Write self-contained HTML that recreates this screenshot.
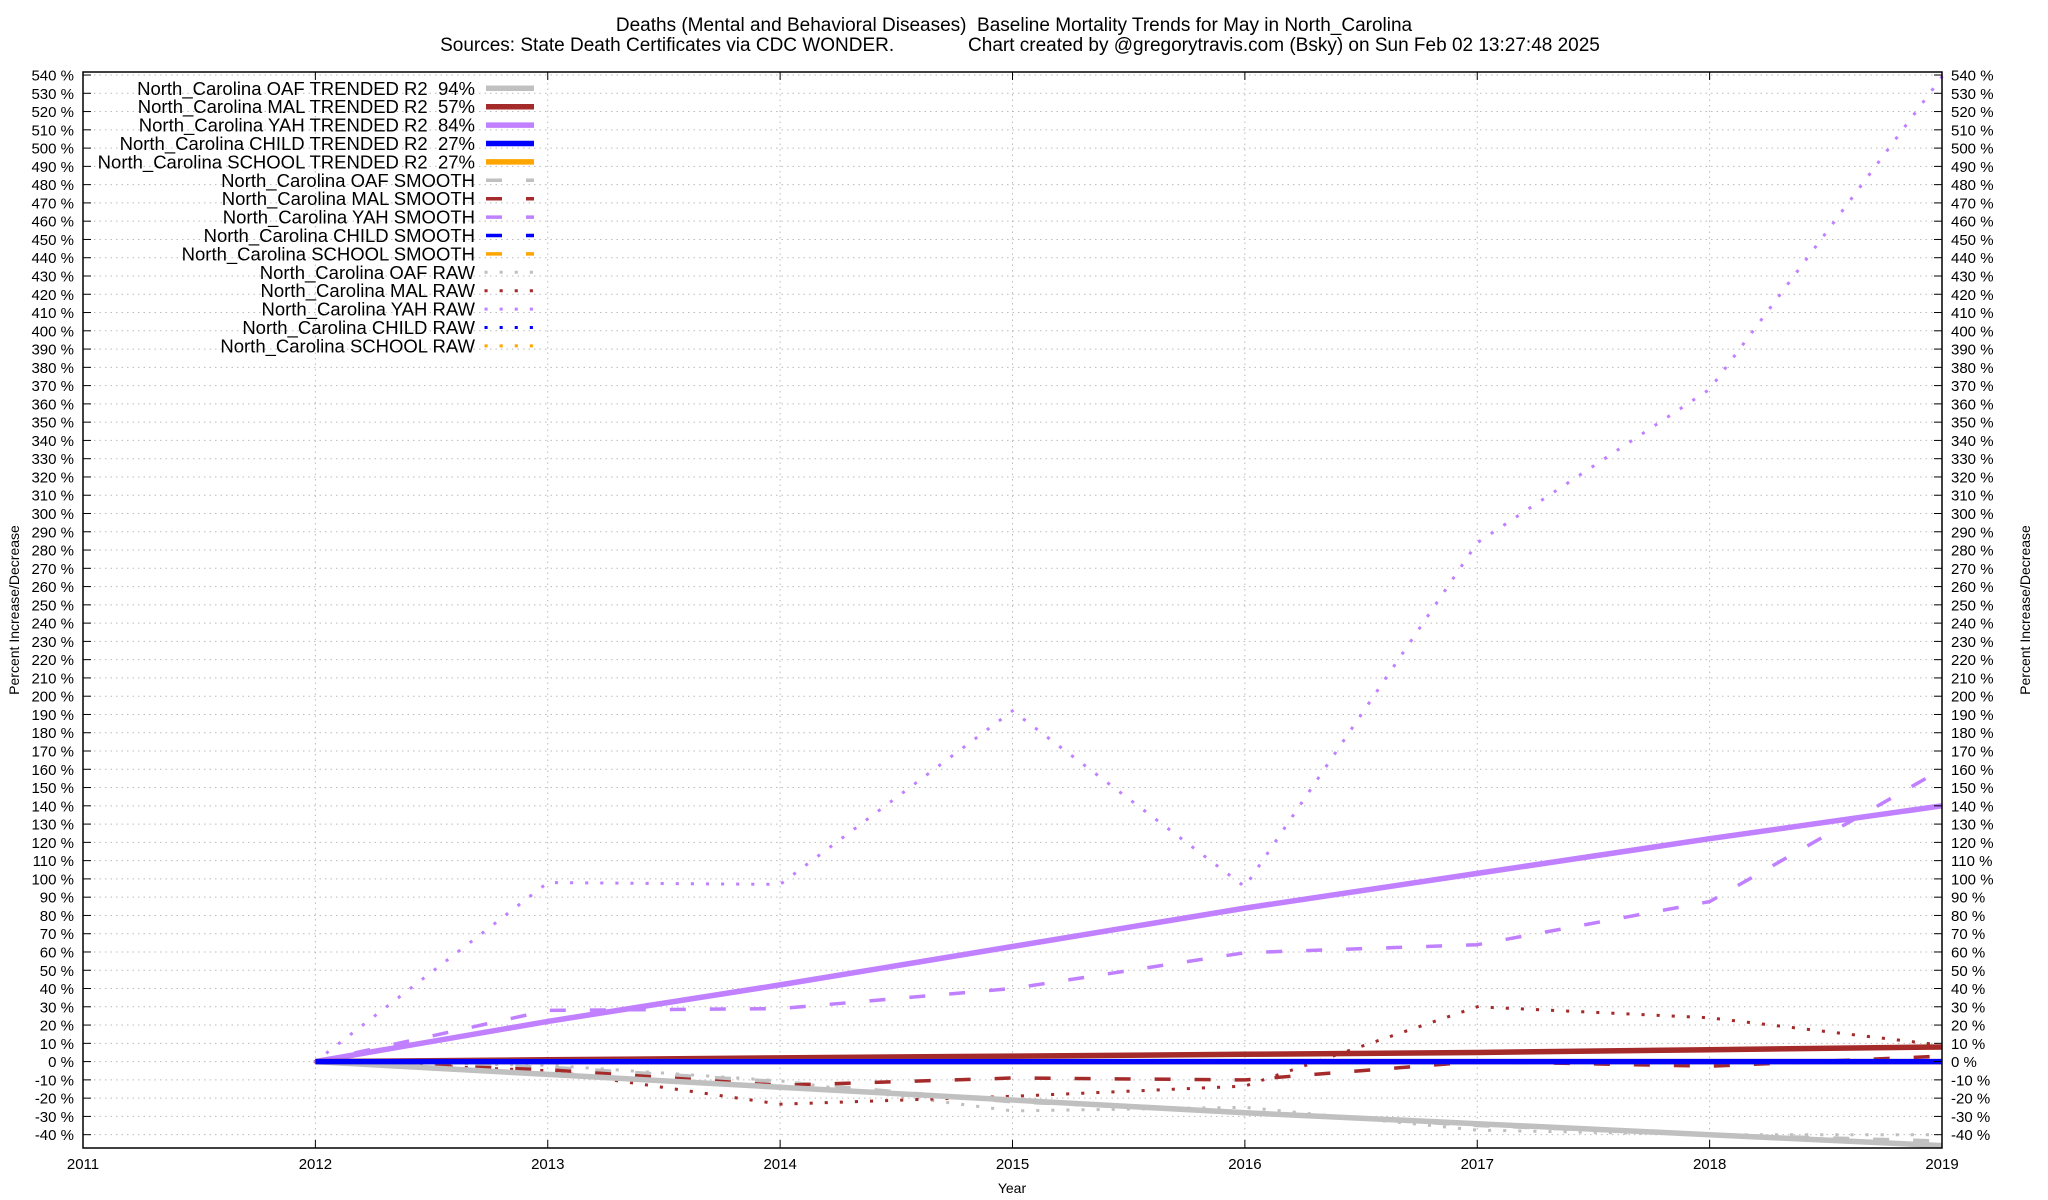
<!DOCTYPE html>
<html><head><meta charset="utf-8">
<style>
html,body{margin:0;padding:0;background:#fff;}
svg{display:block;font-family:"Liberation Sans",Arial,sans-serif;}
text{white-space:pre;}
</style></head>
<body>
<svg id="chart" width="2048" height="1200" viewBox="0 0 2048 1200" xmlns="http://www.w3.org/2000/svg">
  <text x="1014" y="31" font-size="19" text-anchor="middle">Deaths (Mental and Behavioral Diseases)  Baseline Mortality Trends for May in North_Carolina</text>
  <text x="1020" y="51" font-size="19" text-anchor="middle">Sources: State Death Certificates via CDC WONDER.              Chart created by @gregorytravis.com (Bsky) on Sun Feb 02 13:27:48 2025</text>
  <g id="grid"></g>
  <g id="series"></g>
  <rect x="83" y="72" width="1859" height="1076" fill="none" stroke="#000" stroke-width="1.5"/>
  <g id="axes"></g>
  <g id="legend"></g>
  <text transform="translate(19,610) rotate(-90)" font-size="14" text-anchor="middle">Percent Increase/Decrease</text>
  <text transform="translate(2030,610) rotate(-90)" font-size="14" text-anchor="middle">Percent Increase/Decrease</text>
  <text x="1012" y="1193" font-size="14" text-anchor="middle">Year</text>
</svg>
<script>
const years = [2012, 2013, 2014, 2015, 2016, 2017, 2018, 2019];
const xTicks = [2011, 2012, 2013, 2014, 2015, 2016, 2017, 2018, 2019];
const yTicks = [-40,-30,-20,-10,0,10,20,30,40,50,60,70,80,90,100,110,120,130,140,150,160,170,180,190,200,210,220,230,240,250,260,270,280,290,300,310,320,330,340,350,360,370,380,390,400,410,420,430,440,450,460,470,480,490,500,510,520,530,540];
const trendYears = [2012, 2013, 2014, 2015, 2016, 2017, 2018, 2019];
const oafTrend = [0, -7, -14, -21, -28, -34, -40, -46];
const malTrend = [0, 1, 2, 3, 4, 5, 6.5, 8];
const yahTrend = [0, 22, 42, 63, 84, 103, 122, 140];
const childTrend = [0, 0, 0, 0, 0, 0, 0, 0];
const schoolTrend = [0, 0, 0, 0, 0, 0, 0, 0];
const oafSmooth = [0, -3, -11, -22, -27.5, -35, -40, -43.5];
const malSmooth = [0, -4.5, -13, -9, -10, 0, -2.5, 3];
const yahSmooth = [0, 28, 29, 40, 59.6, 64, 87.6, 160];
const childSmooth = [0, 0, 0, 0, 0, 0, 0, 0];
const schoolSmooth = [0, 0, 0, 0, 0, 0, 0, 0];
const oafRaw = [0, -2, -10.5, -27, -25, -37.5, -40, -40];
const malRaw = [0, -5, -23.3, -19, -13.4, 30, 24, 9];
const yahRaw = [0, 98, 97, 192, 95.7, 284, 368, 539];
const childRaw = [0, 0, 0, 0, 0, 0, 0, 0];
const schoolRaw = [0, 0, 0, 0, 0, 0, 0, 0];

const NS = "http://www.w3.org/2000/svg";
const X0 = 83, X1 = 1942, Y0 = 1061.6, PPV = 1.827;
function xs(t){ return X0 + (t - 2011) * (X1 - X0) / 8; }
function ys(v){ return Y0 - v * PPV; }
function mk(tag, attrs, parent){
  const e = document.createElementNS(NS, tag);
  for (const k in attrs) e.setAttribute(k, attrs[k]);
  parent.appendChild(e);
  return e;
}
const grid = document.getElementById('grid');
const axes = document.getElementById('axes');
const series = document.getElementById('series');
const legend = document.getElementById('legend');

yTicks.forEach(v => {
  const y = ys(v);
  const g = mk('line', {x1:X0, x2:X1, y1:y, y2:y, stroke:'#bbb', 'stroke-width':1, 'stroke-dasharray':'1.5,4'}, grid);
  
  
  const t1 = mk('line', {x1:X0, x2:X0+8, y1:y, y2:y, stroke:'#000', 'stroke-width':1}, axes);
  
  
  const t2 = mk('line', {x1:X1-8, x2:X1, y1:y, y2:y, stroke:'#000', 'stroke-width':1}, axes);
  
  
  const l1 = mk('text', {x:74, y:y+5.5, 'font-size':15, 'text-anchor':'end'}, axes);
  l1.textContent = v + ' %';
  
  
  const l2 = mk('text', {x:1951, y:y+5.5, 'font-size':15}, axes);
  l2.textContent = v + ' %';
  
  
});
xTicks.forEach(t => {
  const x = xs(t);
  const g = mk('line', {x1:x, x2:x, y1:72, y2:1148, stroke:'#bbb', 'stroke-width':1, 'stroke-dasharray':'1.5,4'}, grid);
  
  
  const tk = mk('line', {x1:x, x2:x, y1:1140, y2:1148, stroke:'#000', 'stroke-width':1}, axes);
  
  
  const tk2 = mk('line', {x1:x, x2:x, y1:72, y2:80, stroke:'#000', 'stroke-width':1}, axes);
  
  
  const l = mk('text', {x:x, y:1169, 'font-size':15, 'text-anchor':'middle'}, axes);
  l.textContent = t;
  
  
});

const GRAY = '#c0c0c0', RED = '#a52a2a', PURP = '#c080ff', BLUE = '#0000ff', ORANGE = '#ffa500';
const TREND = {w:5.5, dash:null, cap:'butt'};
const SMOOTH = {w:3.5, dash:'16,24', cap:'butt'};
const RAW = {w:3, dash:'0.1,15', cap:'square'};
function poly(xsArr, vals, color, st, name){
  const pts = xsArr.map((t,i) => xs(t).toFixed(1) + ',' + ys(vals[i]).toFixed(1)).join(' ');
  const a = {points:pts, fill:'none', stroke:color, 'stroke-width':st.w, 'stroke-linecap':st.cap, 'stroke-linejoin':'round'};
  if (st.dash) a['stroke-dasharray'] = st.dash;
  const p = mk('polyline', a, series);
  
  
}
poly(years, schoolRaw, ORANGE, RAW, 'school-raw-line');
poly(years, childRaw, BLUE, RAW, 'child-raw-line');
poly(years, oafRaw, GRAY, RAW, 'oaf-raw-line');
poly(years, malRaw, RED, RAW, 'mal-raw-line');
poly(years, yahRaw, PURP, RAW, 'yah-raw-line');
poly(years, schoolSmooth, ORANGE, SMOOTH, 'school-smooth-line');
poly(years, childSmooth, BLUE, SMOOTH, 'child-smooth-line');
poly(years, oafSmooth, GRAY, SMOOTH, 'oaf-smooth-line');
poly(years, malSmooth, RED, SMOOTH, 'mal-smooth-line');
poly(years, yahSmooth, PURP, SMOOTH, 'yah-smooth-line');
poly(trendYears, yahTrend, PURP, TREND, 'yah-trend-line');
poly(trendYears, malTrend, RED, TREND, 'mal-trend-line');
poly(trendYears, oafTrend, GRAY, TREND, 'oaf-trend-line');
poly(trendYears, schoolTrend, ORANGE, TREND, 'school-trend-line');
poly(trendYears, childTrend, BLUE, TREND, 'child-trend-line');

const legendLabels = ['North_Carolina OAF TRENDED R2  94%','North_Carolina MAL TRENDED R2  57%','North_Carolina YAH TRENDED R2  84%','North_Carolina CHILD TRENDED R2  27%','North_Carolina SCHOOL TRENDED R2  27%','North_Carolina OAF SMOOTH','North_Carolina MAL SMOOTH','North_Carolina YAH SMOOTH','North_Carolina CHILD SMOOTH','North_Carolina SCHOOL SMOOTH','North_Carolina OAF RAW','North_Carolina MAL RAW','North_Carolina YAH RAW','North_Carolina CHILD RAW','North_Carolina SCHOOL RAW'];
const legendColors = [GRAY,RED,PURP,BLUE,ORANGE,GRAY,RED,PURP,BLUE,ORANGE,GRAY,RED,PURP,BLUE,ORANGE];
legendLabels.forEach((lab, i) => {
  const y = 88.3 + i * 18.4;
  const st = i < 5 ? TREND : (i < 10 ? SMOOTH : RAW);
  const t = mk('text', {x:475, y:y+6.5, 'font-size':18.5, 'text-anchor':'end'}, legend);
  t.textContent = lab;
  
  
  const a = {x1:486, x2:534, y1:y, y2:y, stroke:legendColors[i], 'stroke-width':st.w, 'stroke-linecap':st.cap};
  if (st.dash) a['stroke-dasharray'] = i < 10 ? '16,24' : '0.1,15';
  const s = mk('line', a, legend);
  
  
});
</script>
</body></html>
